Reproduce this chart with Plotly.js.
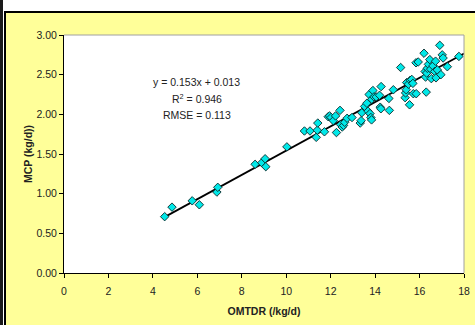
<!DOCTYPE html>
<html>
<head>
<meta charset="utf-8">
<script src="https://cdn.plot.ly/plotly-3.0.1.min.js"></script>
<style>
  html, body { margin: 0; padding: 0; background: #ffffff; width: 475px; height: 325px; overflow: hidden; }
  #b1 { position: absolute; left: 0; top: 0; width: 3px; height: 325px; background: #1a1a1a; }
  #b2 { position: absolute; left: 4px; top: 11px; width: 2px; height: 314px; background: #000; }
  #b3 { position: absolute; left: 4px; top: 11px; width: 471px; height: 2px; background: #000; }
  #chart { position: absolute; left: 6px; top: 13px; width: 469px; height: 312px; }
</style>
</head>
<body>
<div id="b1"></div><div id="b2"></div><div id="b3"></div>
<div id="chart"></div>
<script>
const omtdr = [4.53, 4.86, 5.77, 6.09, 6.88, 6.92, 8.60, 8.90, 9.05, 9.08,
  10.03, 10.82, 11.07, 11.35, 11.40, 11.42, 11.72, 11.89, 11.95, 12.02,
  12.12, 12.22, 12.26, 12.42, 12.45, 12.52, 12.58, 12.63, 12.74, 12.96,
  13.33, 13.37, 13.40, 13.53, 13.63, 13.68, 13.73, 13.77, 13.81, 13.84,
  13.85, 13.90, 13.95, 14.05, 14.20, 14.23, 14.26, 14.27, 14.62, 14.64,
  14.82, 15.15, 15.35, 15.37, 15.40, 15.42, 15.50, 15.55, 15.58, 15.65,
  15.70, 15.72, 15.85, 15.84, 15.94, 16.20, 16.25, 16.27, 16.30, 16.32,
  16.35, 16.40, 16.46, 16.50, 16.53, 16.60, 16.68, 16.72, 16.74, 16.80,
  16.91, 16.96, 17.02, 17.06, 17.25, 17.77];
const mcp = [0.71, 0.83, 0.91, 0.86, 1.02, 1.08, 1.37, 1.39, 1.44, 1.34,
  1.59, 1.79, 1.79, 1.71, 1.80, 1.89, 1.78, 1.97, 1.98, 1.96,
  1.92, 1.98, 1.77, 2.05, 1.87, 1.84, 1.86, 1.90, 1.95, 1.96,
  1.89, 1.92, 2.02, 2.10, 2.14, 2.04, 2.25, 2.01, 1.96, 1.93,
  2.19, 2.30, 2.22, 2.22, 2.24, 2.09, 2.07, 2.35, 2.20, 2.05,
  2.31, 2.59, 2.21, 2.27, 2.31, 2.40, 2.38, 2.12, 2.43, 2.44,
  2.39, 2.26, 2.26, 2.65, 2.66, 2.77, 2.54, 2.47, 2.28, 2.52,
  2.58, 2.63, 2.69, 2.57, 2.45, 2.61, 2.54, 2.67, 2.46, 2.56,
  2.87, 2.50, 2.75, 2.71, 2.60, 2.73];
const slope = 0.153;
const intercept = 0.013;
const fitRange = [4.5, 18];
const fitY = fitRange.map(v => slope * v + intercept);
const statLines = ["y = 0.153x + 0.013", "R<sup>2</sup> = 0.946", "RMSE = 0.113"];
const statY = [2.41, 2.20, 1.99];

const font = "Liberation Sans, Arial, sans-serif";

const traces = [
  {
    x: fitRange, y: fitY, mode: "lines", type: "scatter",
    line: { color: "#000000", width: 1.8 }, hoverinfo: "skip"
  },
  {
    x: omtdr, y: mcp, mode: "markers", type: "scatter",
    marker: { symbol: "diamond", size: 6.5, color: "#00E8E8", line: { color: "#0a2a2a", width: 0.9 } }
  }
];

const layout = {
  width: 469, height: 312,
  margin: { l: 58, r: 11, t: 22, b: 52, pad: 0 },
  paper_bgcolor: "#FFFF99",
  plot_bgcolor: "#FFFFFF",
  showlegend: false,
  font: { family: font, size: 10.5, color: "#222222" },
  xaxis: {
    range: [0, 18], dtick: 2, tick0: 0, showgrid: false, zeroline: false,
    showline: true, linecolor: "#000000", linewidth: 1,
    ticks: "outside", ticklen: 4, tickcolor: "#000000", ticklabelstandoff: 4,
    tickfont: { family: font, size: 10.5, color: "#222222" },
    title: { text: "<b>OMTDR (/kg/d)</b>", font: { family: font, size: 10.5, color: "#222222" }, standoff: 12 }
  },
  yaxis: {
    range: [0, 3], dtick: 0.5, tick0: 0, tickformat: ".2f", showgrid: false, zeroline: false,
    showline: true, linecolor: "#000000", linewidth: 1,
    ticks: "outside", ticklen: 4, tickcolor: "#000000",
    tickfont: { family: font, size: 10.5, color: "#222222" },
    title: { text: "<b>MCP (kg/d))</b>", font: { family: font, size: 10.5, color: "#222222" }, standoff: 1 }
  },
  shapes: [
    { type: "line", xref: "paper", yref: "paper", x0: 0, x1: 1, y0: 1, y1: 1, line: { color: "#a0a0a0", width: 1 } },
    { type: "line", xref: "paper", yref: "paper", x0: 1, x1: 1, y0: 0, y1: 1, line: { color: "#a0a0a0", width: 1 } }
  ],
  annotations: statLines.map((t, i) => ({
    x: 5.98, y: statY[i], xref: "x", yref: "y", text: t, showarrow: false,
    xanchor: "center", yanchor: "middle",
    font: { family: font, size: 10.5, color: "#222222" }
  }))
};

Plotly.newPlot("chart", traces, layout, { staticPlot: true, displayModeBar: false });
</script>
</body>
</html>
